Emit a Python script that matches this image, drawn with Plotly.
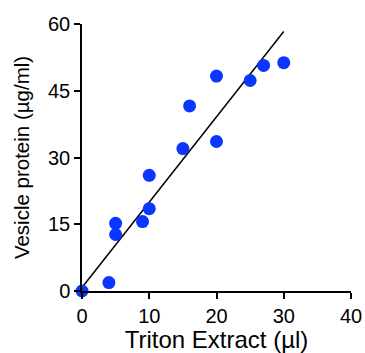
import plotly.graph_objects as go

triton_ul = [0, 4, 5, 5, 9, 10, 10, 15, 16, 20, 20, 25, 27, 30]
protein = [0, 1.9, 15.2, 12.7, 15.6, 18.5, 26.0, 32.0, 41.6, 33.6, 48.3, 47.3, 50.7, 51.3]
fit_x = [0, 30]
fit_y = [0.8, 58.3]
x_ticks = [0, 10, 20, 30, 40]
y_ticks = [0, 15, 30, 45, 60]

fig = go.Figure()
fig.add_trace(go.Scatter(x=fit_x, y=fit_y, mode="lines",
                         line=dict(color="black", width=1.5), showlegend=False))
fig.add_trace(go.Scatter(x=triton_ul, y=protein, mode="markers",
                         marker=dict(color="#0a36ff", size=13), cliponaxis=False,
                         showlegend=False))

font = dict(family="Liberation Sans, Arial, sans-serif", color="black")
fig.update_layout(
    width=365, height=353,
    margin=dict(l=82, r=14, t=24, b=62),
    paper_bgcolor="white", plot_bgcolor="white",
    font=font,
    xaxis=dict(range=[0, 40], tickvals=x_ticks, showgrid=False, zeroline=False,
               showline=True, linecolor="black", linewidth=1.5, automargin=False,
               ticks="outside", ticklen=6, tickwidth=1.5, tickcolor="black",
               tickfont=dict(size=20), ticklabeloverflow="allow",
               title=dict(text="Triton Extract (µl)", font=dict(size=24), standoff=4)),
    yaxis=dict(range=[0, 60], tickvals=y_ticks, showgrid=False, zeroline=False,
               showline=True, linecolor="black", linewidth=1.5, automargin=False,
               ticks="outside", ticklen=6, tickwidth=1.5, tickcolor="black",
               tickfont=dict(size=20),
               title=dict(text="Vesicle protein (µg/ml)", font=dict(size=20.5), standoff=13)),
)
fig.write_html(
    "out.html",
    config={"displayModeBar": False},
    post_script="document.body.style.margin='0';document.body.style.overflow='hidden';",
)
